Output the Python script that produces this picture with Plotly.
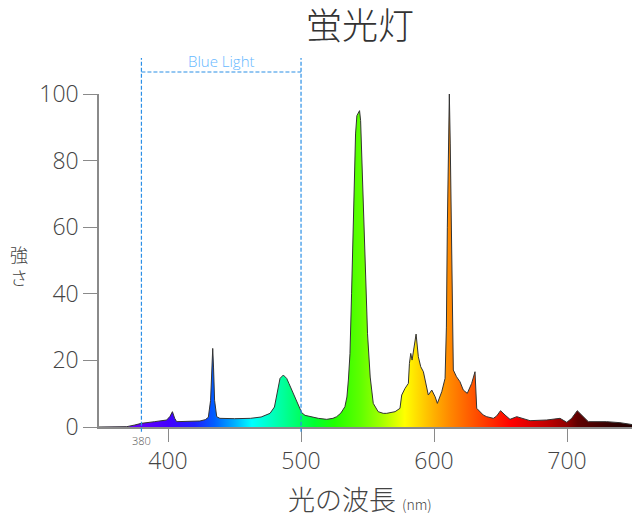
import plotly.graph_objects as go

# Spectrum of a fluorescent lamp (wavelength nm, relative intensity)
wavelength = [348, 360, 369, 375, 380, 390, 399, 401.5, 403.3, 405, 406.5, 415, 424, 428, 430.3, 432,
              433.2, 433.6, 434.2, 435, 436.6, 439, 450, 462, 470, 476.7, 480, 481.7, 483, 484.2,
              486.7, 489.2, 491, 493, 496.7, 500.5, 503, 506.8, 513, 519.3, 524, 526.8, 530, 533,
              534.5, 535.6, 536.8, 538, 539.8, 541, 542, 544, 544.8, 545.6, 546.8, 548.3, 550, 552,
              554.3, 558, 561.8, 564.4, 568, 570.7, 574.4, 575.7, 578.2, 580.7, 581.5, 582.5, 583.5,
              584.4, 586.5, 588.2, 590, 592, 593.8, 595.7, 598.3, 600.8, 602.5, 605.8, 608.3, 609.3,
              610, 610.8, 611.5, 612.2, 613, 613.8, 614.5, 616.9, 619.5, 622, 625, 628.3, 630.8,
              632.1, 634.6, 637, 639.6, 644.6, 647.1, 650, 653.4, 657.1, 662.2, 667.1, 672.2, 684.7,
              694.7, 699.8, 703.5, 707.7, 711.1, 716, 729.8, 739.8, 751]
intensity = [0, 0, 0.1, 0.6, 1.1, 1.6, 2.1, 3.2, 4.6, 2.6, 1.6, 1.7, 1.8, 2.2, 2.9, 8,
             20, 23.6, 18, 8, 3.1, 2.6, 2.5, 2.6, 3.0, 4.1, 6, 9.1, 12.5, 14.6,
             15.6, 14.6, 13, 11.1, 7.6, 4.3, 3.5, 3.1, 2.6, 2.3, 2.6, 3.1, 4.2, 6.1,
             9, 14.1, 22, 40, 66, 88, 93.5, 95, 92, 82.7, 66.7, 45, 28, 15,
             7.1, 4.6, 4.1, 4.1, 4.3, 4.6, 5.6, 9.6, 11.6, 13.1, 19.1, 22.1, 20.1,
             22.6, 27.9, 21.1, 18.1, 16.6, 12.6, 9.6, 11.1, 9.1, 7.1, 10.6, 14.6, 30,
             60, 88, 100, 85, 55, 30, 17.1, 15.1, 13.6, 11.1, 10.1, 13.1, 16.6,
             5.6, 4.6, 3.6, 3.1, 2.6, 3.3, 4.9, 3.6, 2.3, 3.1, 2.6, 1.9, 2.1,
             2.6, 1.4, 2.6, 4.9, 3.6, 1.6, 1.6, 1.3, 0.6]

# Colour of the light at each wavelength (for the rainbow fill)
color_wl = [360, 380, 400, 420, 435, 450, 463, 487, 510, 525, 545, 560, 578, 600, 612, 635, 658,
            685, 700, 708, 735, 751]
color_hex = ["#7000ff", "#6000ff", "#4400ff", "#2020ff", "#0060ff", "#00b0ff", "#00ffff", "#00ff99",
             "#00ff30", "#20ff00", "#60ff00", "#a0ff00", "#ffff00", "#ffb000", "#ff8800", "#ff4400",
             "#ff0000", "#c00000", "#900000", "#600000", "#300000", "#200000"]

x_ticks = [400, 500, 600, 700]
y_ticks = [0, 20, 40, 60, 80, 100]
blue_light = [380, 500]

X_RANGE = [348.1, 751.1]

cmin, cmax = color_wl[0], color_wl[-1]
colorscale = [[(w - cmin) / (cmax - cmin), c] for w, c in zip(color_wl, color_hex)]

NUM_FONT = "Open Sans, Noto Sans CJK JP, sans-serif"
CJK_FONT = "Noto Sans CJK JP, sans-serif"


def xp(v):
    return (v - X_RANGE[0]) / (X_RANGE[1] - X_RANGE[0])


fig = go.Figure()
fig.add_trace(go.Scatter(
    x=wavelength, y=intensity, mode="lines",
    line=dict(color="#333333", width=1),
    fill="tozeroy",
    fillgradient=dict(type="horizontal", colorscale=colorscale, start=cmin, stop=cmax),
    hoverinfo="skip", showlegend=False,
))

# Blue light bracket
dash_col = "#2b8fe6"
dash_style = "4px,2px"
for wv in blue_light:
    fig.add_shape(type="line", xref="paper", yref="paper", x0=xp(wv), x1=xp(wv), y0=-0.014, y1=1.108,
                  line=dict(color=dash_col, width=1.2, dash=dash_style))
fig.add_shape(type="line", xref="paper", yref="paper", x0=xp(blue_light[0]), x1=xp(blue_light[1]),
              y0=1.066, y1=1.066, line=dict(color=dash_col, width=1.2, dash=dash_style))
fig.add_annotation(x=xp((blue_light[0] + blue_light[1]) / 2), y=1.099, xref="paper", yref="paper",
                   text="Blue Light", showarrow=False, xanchor="center", yanchor="middle",
                   font=dict(family=NUM_FONT, size=15, color="#66b8ff", weight=300))
fig.add_annotation(x=xp(blue_light[0]), y=-0.042, xref="paper", yref="paper", text="380",
                   showarrow=False, xanchor="center", yanchor="middle",
                   font=dict(family=NUM_FONT, size=11, color="#555555", weight=300))

# Titles (page is offset 8px by the body margin)
W, H = 632, 515
fig.update_layout(
    title=dict(text="蛍光灯", x=352 / W, xanchor="center", y=1 - 18 / H, yanchor="middle",
               font=dict(family=CJK_FONT, size=36, color="#333333", weight=300)),
)
fig.add_annotation(x=(360 - 99) / 536, y=(427 - 498) / 333, xref="paper", yref="paper",
                   text="光の波長 <span style='font-size:14px'>(nm)</span>", showarrow=False,
                   xanchor="center", yanchor="middle",
                   font=dict(family=CJK_FONT, size=27, color="#444444", weight=300))
fig.add_annotation(x=(19 - 99) / 536, y=(427 - 265) / 333, xref="paper", yref="paper",
                   text="強<br>さ", showarrow=False, xanchor="center", yanchor="middle",
                   font=dict(family=CJK_FONT, size=18, color="#444444", weight=300))

axis_col = "#8a8a8a"
fig.update_xaxes(range=X_RANGE, tickvals=x_ticks, showgrid=False, zeroline=False,
                 showline=True, linecolor=axis_col, linewidth=1.5,
                 ticks="outside", ticklen=13, tickcolor=axis_col, tickwidth=1,
                 tickfont=dict(family=NUM_FONT, size=23, color="#444444", weight=300))
fig.update_yaxes(range=[0, 100], tickvals=y_ticks, showgrid=False, zeroline=False,
                 showline=True, linecolor=axis_col, linewidth=1.5,
                 ticks="outside", ticklen=14, tickcolor=axis_col, tickwidth=1,
                 tickfont=dict(family=NUM_FONT, size=23, color="#444444", weight=300))

fig.update_layout(width=W, height=H, margin=dict(l=91, r=5, t=86, b=96),
                  plot_bgcolor="white", paper_bgcolor="white")

fig.write_html("out.html")
